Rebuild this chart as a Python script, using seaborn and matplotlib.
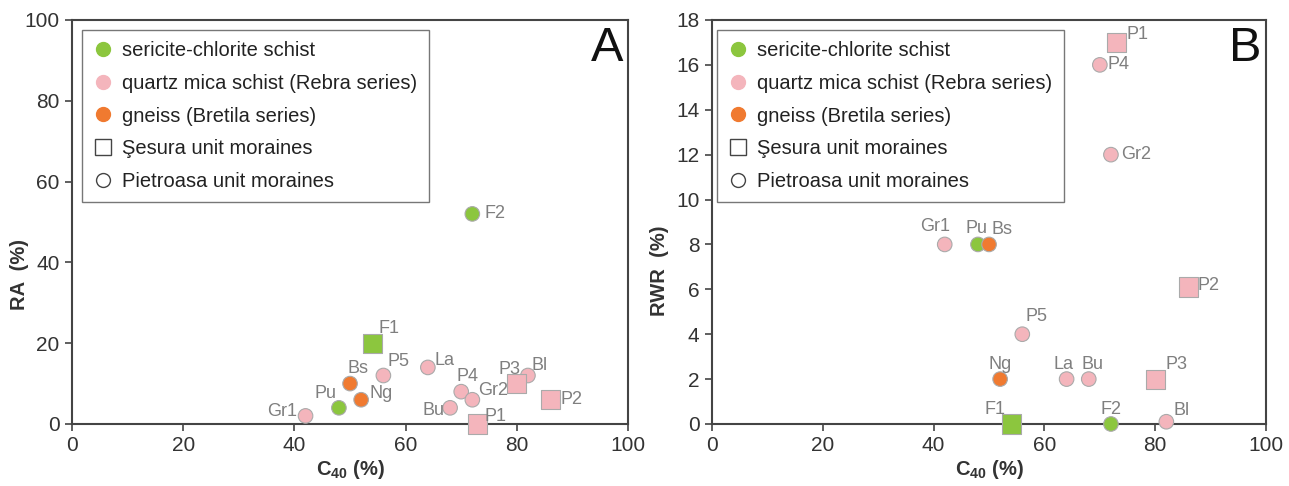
import numpy as np
import pandas as pd
import seaborn as sns
import matplotlib.pyplot as plt
from matplotlib.lines import Line2D

# sample data
samples = ['Gr1', 'Pu', 'Bs', 'Ng', 'F1', 'P5', 'La', 'Bu', 'P4', 'F2', 'Gr2', 'P1', 'P3', 'Bl', 'P2']
c40 = [42, 48, 50, 52, 54, 56, 64, 68, 70, 72, 72, 73, 80, 82, 86]
ra = [2, 4, 10, 6, 20, 12, 14, 4, 8, 52, 6, 0, 10, 12, 6]
rwr = [8, 8, 8, 2, 0, 4, 2, 2, 16, 0, 12, 17, 2, 0.1, 6.1]
rock = ['quartz', 'sericite', 'gneiss', 'gneiss', 'sericite', 'quartz', 'quartz', 'quartz',
        'quartz', 'sericite', 'quartz', 'quartz', 'quartz', 'quartz', 'quartz']
unit = ['Pietroasa', 'Pietroasa', 'Pietroasa', 'Pietroasa', 'Sesura', 'Pietroasa', 'Pietroasa',
        'Pietroasa', 'Pietroasa', 'Pietroasa', 'Pietroasa', 'Sesura', 'Sesura', 'Pietroasa', 'Sesura']

rock_names = ['sericite-chlorite schist', 'quartz mica schist (Rebra series)', 'gneiss (Bretila series)']
unit_names = ['Şesura unit moraines', 'Pietroasa unit moraines']

df = pd.DataFrame({'sample': samples, 'c40': c40, 'ra': ra, 'rwr': rwr, 'rock': rock, 'unit': unit})

palette = {'sericite': '#8cc63e', 'quartz': '#f4b5bc', 'gneiss': '#f07a30'}

# label offsets in pixels (dx, dy, ha)
offs_a = {'F2': (12, 0, 'left'), 'F1': (6, 15, 'left'), 'P5': (4, 14, 'left'), 'Bs': (8, 15, 'center'),
          'Pu': (-2, 14, 'right'), 'Ng': (8, 6, 'left'), 'Gr1': (-8, 4, 'right'), 'La': (7, 7, 'left'),
          'P4': (6, 15, 'center'), 'Gr2': (6, 9, 'left'), 'Bu': (-6, -3, 'right'), 'P1': (7, 7, 'left'),
          'P3': (4, 14, 'right'), 'Bl': (4, 10, 'left'), 'P2': (10, 0, 'left')}
offs_b = {'P1': (10, 8, 'left'), 'P4': (8, 0, 'left'), 'Gr2': (10, 0, 'left'), 'Gr1': (-10, 18, 'center'),
          'Pu': (-1, 16, 'center'), 'Bs': (2, 15, 'left'), 'P2': (9, 2, 'left'), 'P5': (3, 18, 'left'),
          'Ng': (0, 15, 'center'), 'La': (-3, 15, 'center'), 'Bu': (4, 15, 'center'), 'P3': (10, 15, 'left'),
          'F1': (-6, 14, 'right'), 'F2': (0, 14, 'center'), 'Bl': (7, 11, 'left')}

sns.set_style('white')
plt.rcParams['font.family'] = ['Liberation Sans', 'DejaVu Sans']
plt.rcParams['mathtext.default'] = 'regular'

fig = plt.figure(figsize=(12.89, 4.86), dpi=100)
ax1 = fig.add_axes([0.0559, 0.1276, 0.4313, 0.8313])
ax2 = fig.add_axes([0.5524, 0.1276, 0.4298, 0.8313])


def panel(ax, ycol, ylab, ymax, ystep, offs, letter, leg_x, ylab_y):
    circ = df[df.unit == 'Pietroasa']
    sq = df[df.unit == 'Sesura']
    sns.scatterplot(data=circ, x='c40', y=ycol, hue='rock', palette=palette, marker='o', s=110,
                    edgecolor='#aaaaaa', linewidth=0.8, legend=False, ax=ax, zorder=3, clip_on=False)
    sns.scatterplot(data=sq, x='c40', y=ycol, hue='rock', palette=palette, marker='s', s=190,
                    edgecolor='#aaaaaa', linewidth=0.8, legend=False, ax=ax, zorder=3, clip_on=False)
    for _, r in df.iterrows():
        dx, dy, ha = offs[r['sample']]
        ax.annotate(r['sample'], (r['c40'], r[ycol]), xytext=(dx, dy), textcoords='offset pixels',
                    ha=ha, va='center', fontsize=13, color='#7f7f7f')
    ax.set_xlim(0, 100)
    ax.set_ylim(0, ymax)
    ax.set_xticks(np.arange(0, 101, 20))
    ax.set_yticks(np.arange(0, ymax + 0.1, ystep))
    ax.tick_params(axis='both', direction='out', length=5, width=1.2, color='#444444',
                   labelsize=15, labelcolor='#333333', bottom=True, left=True, pad=4)
    for sp in ax.spines.values():
        sp.set_color('#444444')
        sp.set_linewidth(1.5)
    ax.set_xlabel('C$_{40}$ (%)', fontsize=14.5, fontweight='bold', color='#333333', labelpad=2)
    ax.set_ylabel(ylab, fontsize=14.5, fontweight='bold', color='#333333')
    ax.yaxis.set_label_coords(-0.078, ylab_y)
    ax.text(0.992, 0.985, letter, transform=ax.transAxes, ha='right', va='top', fontsize=35, color='#111111')

    handles = [Line2D([], [], marker='o', ls='', markersize=10, markerfacecolor=palette[k],
                      markeredgecolor=palette[k]) for k in ['sericite', 'quartz', 'gneiss']]
    handles += [Line2D([], [], marker='s', ls='', markersize=12, markerfacecolor='white',
                       markeredgecolor='#444444', markeredgewidth=1),
                Line2D([], [], marker='o', ls='', markersize=10, markerfacecolor='white',
                       markeredgecolor='#444444', markeredgewidth=1)]
    leg = ax.legend(handles, rock_names + unit_names, loc='upper left', bbox_to_anchor=(leg_x, 0.975),
                    borderaxespad=0, frameon=True, fancybox=False, fontsize=14.5, handletextpad=0.45,
                    handlelength=1.0, labelspacing=0.68, borderpad=0.55, labelcolor='#222222')
    leg.get_frame().set_edgecolor('#555555')
    leg.get_frame().set_linewidth(1.0)


panel(ax1, 'ra', 'RA  (%)', 100, 20, offs_a, 'A', 0.018, 0.37)
panel(ax2, 'rwr', 'RWR  (%)', 18, 2, offs_b, 'B', 0.009, 0.38)

fig.savefig('out.png', dpi=100)
